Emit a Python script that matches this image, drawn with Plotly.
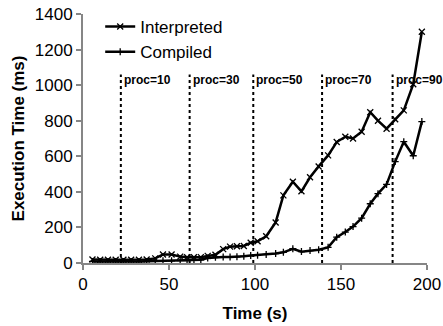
import plotly.graph_objects as go

# Data
time_s = [5.5, 10, 14.5, 19, 23.5, 28, 32.5, 37, 42, 46.5, 51.5, 56.5, 60.5, 64.5,
          68.5, 72.5, 77, 81.5, 85.5, 89.5, 93.5, 97.5, 101.5, 106.5, 112, 116.5,
          122, 127, 132, 137, 142.5, 147.5, 152.5, 157, 162, 167, 171.5, 176.5,
          181.5, 186.5, 192, 197]
interpreted = [20, 18, 18, 18, 18, 18, 18, 20, 26, 48, 48, 36, 32, 32,
               33, 40, 46, 78, 92, 94, 96, 114, 122, 150, 228, 380,
               457, 403, 482, 543, 605, 680, 710, 700, 738, 848, 800, 755,
               808, 858, 1005, 1300]
compiled = [9, 8, 8, 8, 8, 8, 8, 9, 12, 12, 12, 13, 14, 15,
            18, 28, 33, 34, 34, 35, 38, 42, 44, 48, 53, 60,
            80, 64, 70, 75, 88, 145, 174, 205, 252, 333, 390, 442,
            570, 682, 603, 795]

proc_x = [22, 62, 99, 139, 180]
proc_labels = ["proc=10", "proc=30", "proc=50", "proc=70", "proc=90"]
proc_top = 1060

x_ticks = [0, 50, 100, 150, 200]
y_ticks = [0, 200, 400, 600, 800, 1000, 1200, 1400]

AX = "#868686"
FONT = "Liberation Sans, Arial, sans-serif"

fig = go.Figure()

for px in proc_x:
    fig.add_trace(go.Scatter(x=[px, px], y=[0, proc_top], mode="lines",
                             line=dict(color="black", width=2, dash="dot"),
                             showlegend=False, hoverinfo="skip"))

fig.add_trace(go.Scatter(x=time_s, y=interpreted, mode="lines+markers", name="Interpreted",
                         line=dict(color="black", width=2.5),
                         marker=dict(symbol="x-thin", size=6, line=dict(color="black", width=1.3))))
fig.add_trace(go.Scatter(x=time_s, y=compiled, mode="lines+markers", name="Compiled",
                         line=dict(color="black", width=2.5),
                         marker=dict(symbol="cross-thin", size=5, line=dict(color="black", width=1.3))))

for px, lab in zip(proc_x, proc_labels):
    fig.add_annotation(x=px, y=1030, text="<b>" + lab + "</b>", showarrow=False,
                       xanchor="left", yanchor="middle", xshift=1,
                       font=dict(family=FONT, size=12, color="black"))

fig.update_layout(
    width=443, height=326,
    margin=dict(l=83, r=16, t=14, b=63, autoexpand=False),
    paper_bgcolor="white", plot_bgcolor="white",
    font=dict(family=FONT, color="black"),
    legend=dict(x=0.05, y=1.02, xanchor="left", yanchor="top",
                font=dict(family=FONT, size=17), bgcolor="rgba(0,0,0,0)",
                tracegroupgap=0, itemwidth=30),
    xaxis=dict(range=[0, 200], tickvals=x_ticks, showgrid=False, zeroline=False,
               automargin=False,
               showline=True, linecolor=AX, linewidth=2, ticks="outside", ticklen=5,
               tickcolor=AX, tickwidth=2, tickfont=dict(family=FONT, size=17),
               title=dict(text="<b>Time (s)</b>", font=dict(family=FONT, size=17), standoff=14)),
    yaxis=dict(range=[0, 1400], tickvals=y_ticks, showgrid=False, zeroline=False,
               automargin=False,
               showline=True, linecolor=AX, linewidth=2, ticks="outside", ticklen=5,
               tickcolor=AX, tickwidth=2, tickfont=dict(family=FONT, size=17),
               title=dict(text="<b>Execution Time (ms)</b>", font=dict(family=FONT, size=17), standoff=6)),
)

fig.write_html("out.html")
